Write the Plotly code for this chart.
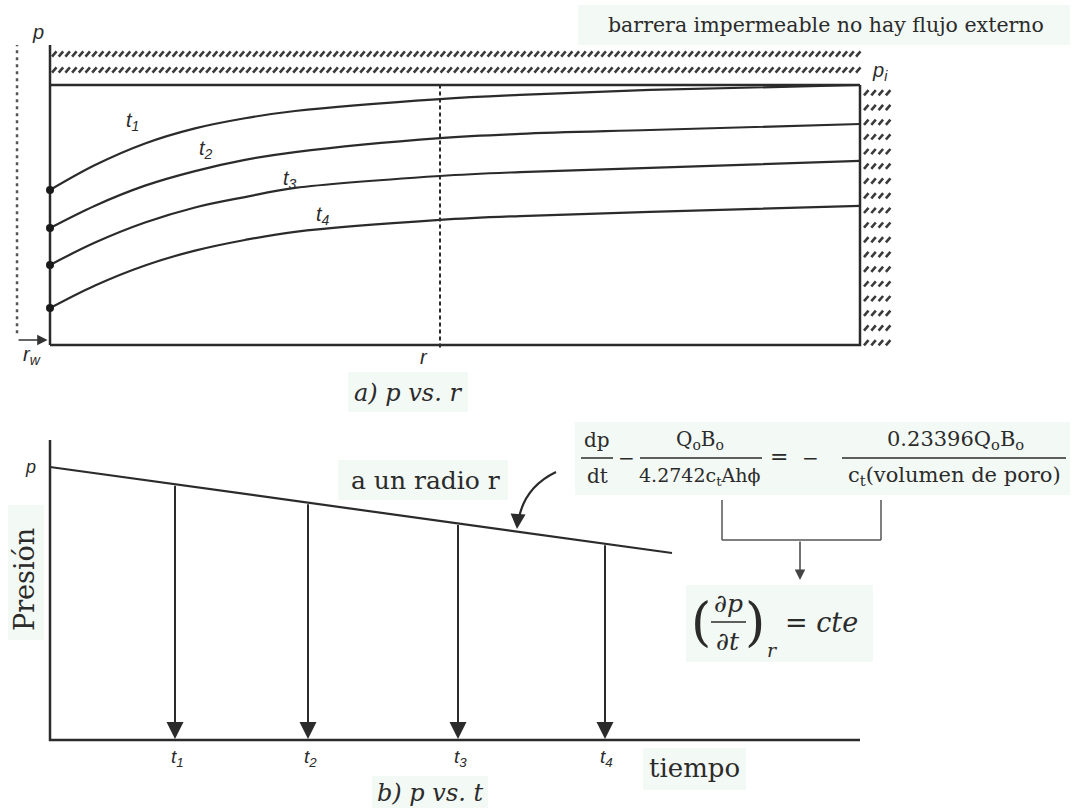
import numpy as np
import plotly.graph_objects as go

W, H = 1073, 808

# ---------------- data: panel a) p vs r ----------------
r_norm = [0.0, 0.0556, 0.1173, 0.179, 0.2407, 0.3025, 0.4815, 0.5802, 0.7407, 1.0]
p_t1 = [0.596, 0.692, 0.775, 0.833, 0.872, 0.900, 0.946, 0.962, 0.981, 1.000]
p_t2 = [0.450, 0.536, 0.613, 0.669, 0.712, 0.742, 0.796, 0.812, 0.827, 0.850]
p_t3 = [0.308, 0.394, 0.471, 0.529, 0.569, 0.604, 0.650, 0.665, 0.681, 0.708]
p_t4 = [0.142, 0.229, 0.306, 0.363, 0.404, 0.435, 0.481, 0.496, 0.512, 0.535]
curve_names = ["t1", "t2", "t3", "t4"]
p_initial = 1.0
r_radius = 0.4815
r_well_line = -0.0407

# ---------------- data: panel b) p vs t ----------------
t_line = [0.0, 6.22]
p_line = [2.73, 1.87]
t_marks = [1.25, 2.58, 4.08, 5.55]
t_labels = ["t<sub>1</sub>", "t<sub>2</sub>", "t<sub>3</sub>", "t<sub>4</sub>"]

INK = "#2b2b2b"
BOX = "#f3f9f4"


def P(x, y):
    return x / W, 1 - y / H


fig = go.Figure()

# ---------- panel a traces ----------
fig.add_trace(go.Scatter(
    x=[0, 0, None, 0, 1, 1, None, 0, 1],
    y=[0, 1.154, None, 0, 0, p_initial, None, p_initial, p_initial],
    mode="lines", line=dict(color=INK, width=2.5), xaxis="x", yaxis="y",
    hoverinfo="skip", showlegend=False))
fig.add_trace(go.Scatter(x=[r_radius, r_radius], y=[-0.01, p_initial], mode="lines",
                         line=dict(color=INK, width=2, dash="4px,3px"),
                         xaxis="x", yaxis="y", showlegend=False, hoverinfo="skip"))
fig.add_trace(go.Scatter(x=[r_well_line, r_well_line], y=[0.045, 1.154], mode="lines",
                         line=dict(color="#555", width=2.5, dash="3px,4px"),
                         xaxis="x", yaxis="y", showlegend=False, hoverinfo="skip"))
for pv in [p_t1, p_t2, p_t3, p_t4]:
    fig.add_trace(go.Scatter(x=r_norm, y=pv, mode="lines",
                             line=dict(color=INK, width=2.2, shape="spline", smoothing=1.0),
                             xaxis="x", yaxis="y", showlegend=False, hoverinfo="skip"))
fig.add_trace(go.Scatter(x=[r_norm[0]] * 4, y=[p_t1[0], p_t2[0], p_t3[0], p_t4[0]], mode="markers",
                         marker=dict(color="#1a1a1a", size=8), xaxis="x", yaxis="y",
                         showlegend=False, hoverinfo="skip"))

# hatching (decoration)
hx, hy = [], []
sx, sy = 1 / 810, 1 / 260
for row_p in [(345 - 54) / 260, (345 - 70) / 260]:
    for x0 in np.arange(2 * sx, 1.0 + 2 * sx, 6.7 * sx):
        hx += [x0, x0 + 4.5 * sx, None]
        hy += [row_p - 2.6 * sy, row_p + 2.6 * sy, None]
for row_p in np.arange(0.97, -0.02, -14.7 * sy):
    for k in range(4):
        x0 = 1.0 + (4 + 7.3 * k) * sx
        hx += [x0, x0 + 4.5 * sx, None]
        hy += [row_p - 2.6 * sy, row_p + 2.6 * sy, None]
fig.add_trace(go.Scatter(x=hx, y=hy, mode="lines", line=dict(color="#3a3a3a", width=2.6),
                         xaxis="x", yaxis="y", showlegend=False, hoverinfo="skip"))

# ---------- panel b traces ----------
fig.add_trace(go.Scatter(x=[0, 0, 8.1], y=[3.0, 0, 0], mode="lines",
                         line=dict(color=INK, width=2.5), xaxis="x2", yaxis="y2",
                         showlegend=False, hoverinfo="skip"))
fig.add_trace(go.Scatter(x=t_line, y=p_line, mode="lines", line=dict(color=INK, width=2.2),
                         xaxis="x2", yaxis="y2", showlegend=False, hoverinfo="skip"))

annotations = []
shapes = []

for tm in t_marks:
    p0 = float(np.interp(tm, t_line, p_line))
    annotations.append(dict(x=tm, y=0.01, ax=tm, ay=p0, xref="x2", yref="y2", axref="x2", ayref="y2",
                            text="", showarrow=True, arrowhead=2, arrowsize=1.7, arrowwidth=2,
                            arrowcolor=INK))
annotations.append(dict(x=-0.003, y=0.019, ax=r_well_line, ay=0.019, xref="x", yref="y",
                        axref="x", ayref="y", text="", showarrow=True, arrowhead=2,
                        arrowsize=1.3, arrowwidth=1.6, arrowcolor="#333"))


def txt(x, y, s, size=18, family="Liberation Sans", color=INK, italic=False, angle=0, xanchor="center"):
    px, py = P(x, y)
    annotations.append(dict(x=px, y=py, xref="paper", yref="paper", text=s, showarrow=False,
                            xanchor=xanchor, yanchor="middle", textangle=angle,
                            font=dict(size=size, family=family, color=color,
                                      style="italic" if italic else "normal")))


def box(x0, y0, x1, y1, color=BOX):
    a, b = P(x0, y0)
    c, d = P(x1, y1)
    shapes.append(dict(type="rect", xref="paper", yref="paper", x0=a, y0=b, x1=c, y1=d,
                       fillcolor=color, line=dict(width=0), layer="below"))


def seg(x0, y0, x1, y1, color="#555", width=1.5):
    a, b = P(x0, y0)
    c, d = P(x1, y1)
    shapes.append(dict(type="line", xref="paper", yref="paper", x0=a, y0=b, x1=c, y1=d,
                       line=dict(color=color, width=width)))


SERIF = "DejaVu Serif"
LAB = 20

box(578, 5, 1070, 45)
txt(826, 25, "barrera impermeable no hay flujo externo", size=20.5, family=SERIF)
txt(38, 32, "p", size=LAB, italic=True)
txt(880, 72, "p<sub>i</sub>", size=LAB, italic=True)
txt(132, 121, "t<sub>1</sub>", size=LAB, italic=True)
txt(206, 149, "t<sub>2</sub>", size=LAB, italic=True)
txt(290, 180, "t<sub>3</sub>", size=LAB, italic=True)
txt(323, 215, "t<sub>4</sub>", size=LAB, italic=True)
txt(32, 356, "r<sub>w</sub>", size=LAB, italic=True)
txt(424, 357, "r", size=LAB, italic=True)
box(348, 372, 468, 412)
txt(408, 393, "a) p vs. r", size=24, family=SERIF, italic=True, xanchor="center")

txt(30, 467, "p", size=18, italic=True)
box(8, 505, 44, 640)
txt(24, 580, "Presión", size=27, family=SERIF, angle=-90)
for tm, lab in zip(t_marks, t_labels):
    txt(50 + tm * 100 + 2, 758, lab, size=19, italic=True)
box(643, 748, 746, 790)
txt(694, 768, "tiempo", size=26, family=SERIF)
box(372, 776, 488, 808)
txt(430, 793, "b) p vs. t", size=24, family=SERIF, italic=True)
box(338, 460, 508, 500)
txt(425, 480, "a un radio r", size=25, family=SERIF)

(a0, b0), (a1, b1), (a2, b2) = P(556, 472), P(525, 487), P(519, 518)
shapes.append(dict(type="path", xref="paper", yref="paper",
                   path=f"M {a0},{b0} Q {a1},{b1} {a2},{b2}", line=dict(color=INK, width=2.2)))
hx_, hy_ = P(517, 529)
annotations.append(dict(x=hx_, y=hy_, xref="paper", yref="paper", ax=1, ay=-14, text="",
                        showarrow=True, arrowhead=2, arrowsize=1.5, arrowwidth=2, arrowcolor=INK))

box(575, 422, 1070, 495)
EQ = 20
txt(597, 440, "dp", size=EQ, family=SERIF)
txt(597, 476, "dt", size=EQ, family=SERIF)
seg(581, 458, 613, 458, INK, 1.5)
txt(626, 458, "−", size=EQ, family=SERIF)
txt(700, 440, "Q<sub>o</sub>B<sub>o</sub>", size=EQ, family=SERIF)
txt(699, 476, "4.2742c<sub>t</sub>Ahϕ", size=EQ - 1, family=SERIF)
seg(640, 458, 762, 458, INK, 1.5)
txt(779, 457, "=", size=EQ + 2, family=SERIF)
txt(810, 458, "−", size=EQ, family=SERIF)
txt(955, 440, "0.23396Q<sub>o</sub>B<sub>o</sub>", size=EQ + 1, family=SERIF)
txt(954, 476, "c<sub>t</sub>(volumen de poro)", size=EQ + 1, family=SERIF)
seg(842, 458, 1066, 458, INK, 1.5)

seg(722, 500, 722, 540)
seg(722, 540, 881, 540)
seg(881, 500, 881, 540)
ax1, ay1 = P(800, 580)
annotations.append(dict(x=ax1, y=ay1, ax=0, ay=-40, xref="paper", yref="paper",
                        text="", showarrow=True, arrowhead=2, arrowsize=1.4,
                        arrowwidth=1.5, arrowcolor="#444"))

box(686, 585, 873, 662)
txt(701, 622, "(", size=52, family=SERIF)
txt(755, 622, ")", size=52, family=SERIF)
txt(728, 603, "∂p", size=25, family=SERIF, italic=True)
txt(728, 641, "∂t", size=25, family=SERIF, italic=True)
seg(711, 622, 746, 622, INK, 1.5)
txt(772, 650, "r", size=19, family=SERIF, italic=True)
txt(821, 622, "= cte", size=27, family=SERIF, italic=True)

ax_common = dict(visible=False, showgrid=False, zeroline=False, fixedrange=True)
fig.update_layout(
    width=W, height=H, autosize=False,
    margin=dict(l=0, r=0, t=0, b=0),
    paper_bgcolor="white", plot_bgcolor="rgba(0,0,0,0)",
    showlegend=False,
    xaxis=dict(domain=[0, 1], range=[-50 / 810, 1023 / 810], anchor="y", **ax_common),
    yaxis=dict(domain=[398 / 808, 1], range=[(345 - 410) / 260, 345 / 260], anchor="x", **ax_common),
    xaxis2=dict(domain=[0, 1], range=[-0.5, 10.23], anchor="y2", **ax_common),
    yaxis2=dict(domain=[0, 398 / 808], range=[(740 - 808) / 100, (740 - 410) / 100], anchor="x2",
                **ax_common),
    annotations=annotations,
    shapes=shapes,
)

fig.write_html("out.html", config={"displayModeBar": False},
               post_script="document.body.style.margin='0';document.body.style.overflow='hidden';")
